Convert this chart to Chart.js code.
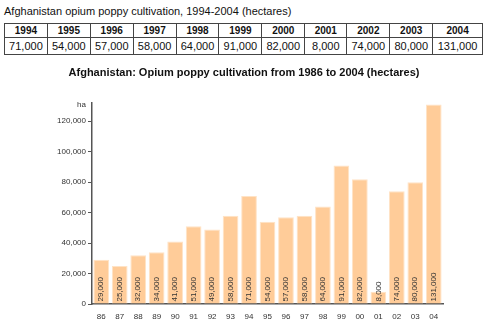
<!DOCTYPE html>
<html>
<head>
<meta charset="utf-8">
<script src="https://cdn.jsdelivr.net/npm/chart.js@4/dist/chart.umd.min.js"></script>
<style>
  body { margin: 0; background: #fff; font-family: Arial, "Liberation Sans", sans-serif; }
  #tblTitle { position: absolute; left: 4px; top: 5px; font-size: 11px; color: #111; }
  table { position: absolute; left: 4px; top: 23px; border-collapse: collapse; width: 479px; }
  td, th { border: 1px solid #444; text-align: center; padding: 0; color: #111; }
  th { font-size: 10px; font-weight: bold; height: 13px; }
  td { font-size: 11px; height: 16px; }
  #wrap { position: absolute; left: 0; top: 60px; width: 500px; height: 266px; }
</style>
</head>
<body>
<div id="tblTitle">Afghanistan opium poppy cultivation, 1994-2004 (hectares)</div>
<table id="tbl"><tr id="hdr"></tr><tr id="vals"></tr></table>
<div id="wrap"><canvas id="chart" width="500" height="266"></canvas></div>
<script>
// table data
const tableYears = ['1994', '1995', '1996', '1997', '1998', '1999', '2000', '2001', '2002', '2003', '2004'];
const tableValues = ['71,000', '54,000', '57,000', '58,000', '64,000', '91,000', '82,000', '8,000', '74,000', '80,000', '131,000'];

// chart data
const years = ['86', '87', '88', '89', '90', '91', '92', '93', '94', '95', '96', '97', '98', '99', '00', '01', '02', '03', '04'];
const hectares = [29000, 25000, 32000, 34000, 41000, 51000, 49000, 58000, 71000, 54000, 57000, 58000, 64000, 91000, 82000, 8000, 74000, 80000, 131000];
const yTicks = [0, 20000, 40000, 60000, 80000, 100000, 120000];

const hdr = document.getElementById('hdr');
const vals = document.getElementById('vals');
tableYears.forEach((y, i) => {
  const th = document.createElement('th');
  th.textContent = y;
  th.style.width = i === tableYears.length - 1 ? '50px' : '43px';
  hdr.appendChild(th);
  const td = document.createElement('td');
  td.textContent = tableValues[i];
  vals.appendChild(td);
});

const fmt = v => v.toLocaleString('en-US');

const extras = {
  id: 'extras',
  afterDraw(chart) {
    const ctx = chart.ctx;
    ctx.save();
    // title
    ctx.font = 'bold 11px Arial';
    ctx.fillStyle = '#111';
    ctx.textAlign = 'center';
    ctx.textBaseline = 'middle';
    ctx.fillText('Afghanistan: Opium poppy cultivation from 1986 to 2004 (hectares)', 244, 13);
    // unit
    ctx.font = '8px Arial';
    ctx.fillStyle = '#333';
    ctx.textAlign = 'right';
    ctx.fillText('ha', 86, 45);
    // value labels
    const meta = chart.getDatasetMeta(0);
    ctx.textAlign = 'left';
    meta.data.forEach((bar, i) => {
      ctx.save();
      ctx.translate(bar.x, bar.base - 2);
      ctx.rotate(-Math.PI / 2);
      ctx.fillText(fmt(hectares[i]), 0, 0);
      ctx.restore();
    });
    ctx.restore();
  }
};

new Chart(document.getElementById('chart'), {
  type: 'bar',
  data: {
    labels: years,
    datasets: [{
      data: hectares,
      backgroundColor: '#FFCC99',
      borderColor: '#FFE3C6',
      borderWidth: 1,
      barPercentage: 0.85,
      categoryPercentage: 1
    }]
  },
  options: {
    responsive: false,
    animation: false,
    layout: { padding: { top: 43, right: 57, left: 0, bottom: 0 } },
    plugins: { legend: { display: false }, tooltip: { enabled: false } },
    scales: {
      x: {
        afterFit: s => { s.height = 22; },
        grid: { display: false, drawTicks: false },
        border: { display: true, color: '#555', width: 1.5 },
        ticks: { font: { size: 8, family: 'Arial' }, color: '#333', padding: 8, maxRotation: 0 }
      },
      y: {
        min: 0,
        max: 132000,
        afterFit: s => { s.width = 92; },
        afterBuildTicks: s => { s.ticks = yTicks.map(v => ({ value: v })); },
        grid: { drawOnChartArea: false, tickLength: 4, color: '#555' },
        border: { display: true, color: '#555', width: 1.5 },
        ticks: { font: { size: 8, family: 'Arial' }, color: '#333', padding: 2, callback: v => fmt(v) }
      }
    }
  },
  plugins: [extras]
});
</script>
</body>
</html>
